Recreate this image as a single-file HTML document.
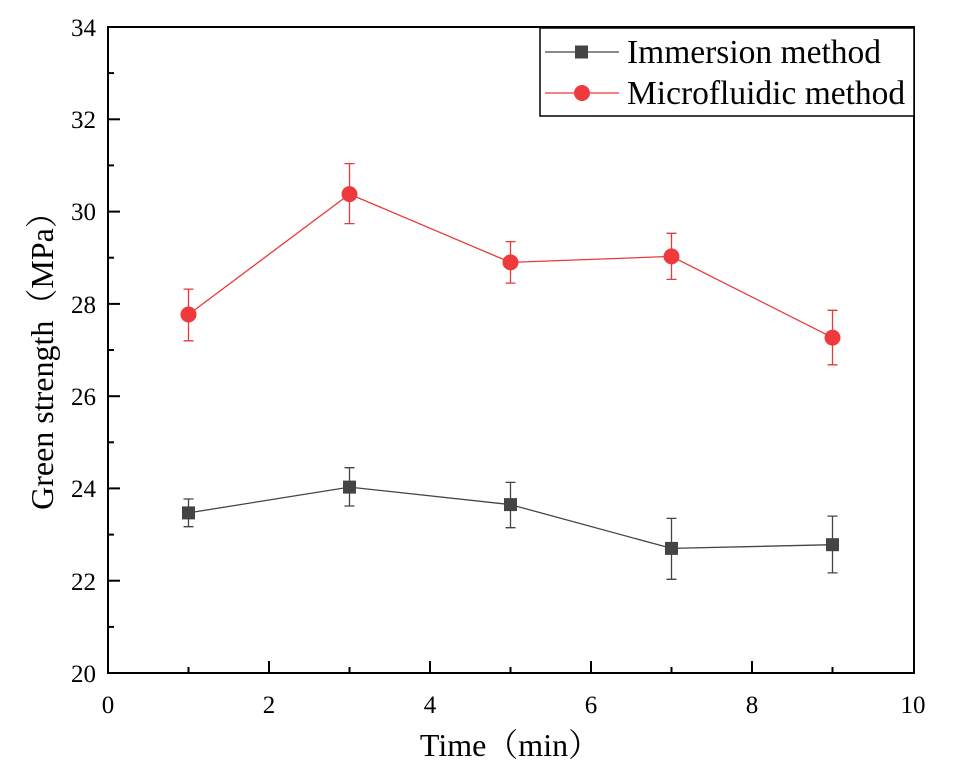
<!DOCTYPE html>
<html><head><meta charset="utf-8"><style>
body{margin:0;background:#fff}
svg text{font-family:"Liberation Serif","Noto Serif CJK SC",serif;fill:#000}
</style></head><body>
<svg width="955" height="776" viewBox="0 0 955 776" xmlns="http://www.w3.org/2000/svg">
<rect width="955" height="776" fill="#fff"/>
<rect x="108" y="27" width="806" height="646" fill="none" stroke="#000" stroke-width="2"/>
<g stroke="#000" stroke-width="2">
<line x1="269" y1="673" x2="269" y2="661"/><line x1="430" y1="673" x2="430" y2="661"/>
<line x1="591" y1="673" x2="591" y2="661"/><line x1="752" y1="673" x2="752" y2="661"/>
<line x1="188.5" y1="673" x2="188.5" y2="667"/><line x1="349.5" y1="673" x2="349.5" y2="667"/>
<line x1="510.5" y1="673" x2="510.5" y2="667"/><line x1="671.5" y1="673" x2="671.5" y2="667"/>
<line x1="832.5" y1="673" x2="832.5" y2="667"/>
<line x1="108" y1="580.7" x2="120" y2="580.7"/><line x1="108" y1="488.4" x2="120" y2="488.4"/>
<line x1="108" y1="396.2" x2="120" y2="396.2"/><line x1="108" y1="303.9" x2="120" y2="303.9"/>
<line x1="108" y1="211.6" x2="120" y2="211.6"/><line x1="108" y1="119.3" x2="120" y2="119.3"/>
<line x1="108" y1="626.9" x2="114" y2="626.9"/><line x1="108" y1="534.6" x2="114" y2="534.6"/>
<line x1="108" y1="442.3" x2="114" y2="442.3"/><line x1="108" y1="350" x2="114" y2="350"/>
<line x1="108" y1="257.7" x2="114" y2="257.7"/><line x1="108" y1="165.4" x2="114" y2="165.4"/>
<line x1="108" y1="73.1" x2="114" y2="73.1"/>
</g>
<g font-size="25" text-anchor="end">
<text x="96" y="682">20</text><text x="96" y="590">22</text><text x="96" y="497">24</text>
<text x="96" y="405">26</text><text x="96" y="313">28</text><text x="96" y="220">30</text>
<text x="96" y="128">32</text><text x="96" y="36">34</text>
</g>
<g font-size="25" text-anchor="middle">
<text x="108" y="713">0</text><text x="269" y="713">2</text><text x="430" y="713">4</text>
<text x="591" y="713">6</text><text x="752" y="713">8</text><text x="913" y="713">10</text>
</g>
<text x="510" y="756" font-size="32" text-anchor="middle">Time（min）</text>
<text transform="translate(53,353) rotate(-90)" font-size="32" text-anchor="middle">Green strength（MPa）</text>
<g stroke="#444" stroke-width="1.3" fill="none">
<polyline points="188.5,512.9 349.5,487.1 510.5,504.6 671.5,548.4 832.5,544.7"/>
<path d="M188.5,499V526.7M183.5,499h10M183.5,526.7h10
M349.5,467.7V506M344.5,467.7h10M344.5,506h10
M510.5,482.4V527.7M505.5,482.4h10M505.5,527.7h10
M671.5,518.4V579.3M666.5,518.4h10M666.5,579.3h10
M832.5,516.1V572.9M827.5,516.1h10M827.5,572.9h10"/>
</g>
<g fill="#444">
<rect x="182" y="506.4" width="13" height="13"/><rect x="343" y="480.6" width="13" height="13"/>
<rect x="504" y="498.1" width="13" height="13"/><rect x="665" y="541.9" width="13" height="13"/>
<rect x="826" y="538.2" width="13" height="13"/>
</g>
<g stroke="#e8393b" stroke-width="1.3" fill="none">
<polyline points="188.5,314.5 349.5,194.1 510.5,262.4 671.5,256.4 832.5,337.6"/>
<path d="M188.5,289.1V340.8M183.5,289.1h10M183.5,340.8h10
M349.5,163.6V223.6M344.5,163.6h10M344.5,223.6h10
M510.5,241.6V283.1M505.5,241.6h10M505.5,283.1h10
M671.5,233.3V279.4M666.5,233.3h10M666.5,279.4h10
M832.5,310.3V364.8M827.5,310.3h10M827.5,364.8h10"/>
</g>
<g fill="#ee3a3c">
<circle cx="188.5" cy="314.5" r="8"/><circle cx="349.5" cy="194.1" r="8"/>
<circle cx="510.5" cy="262.4" r="8"/><circle cx="671.5" cy="256.4" r="8"/>
<circle cx="832.5" cy="337.6" r="8"/>
</g>
<rect x="540" y="28" width="374" height="88" fill="#fff" stroke="#000" stroke-width="1.5"/>
<line x1="545" y1="52" x2="619" y2="52" stroke="#444" stroke-width="1.3"/>
<rect x="575" y="45.5" width="13" height="13" fill="#444"/>
<line x1="545" y1="93" x2="619" y2="93" stroke="#e8393b" stroke-width="1.3"/>
<circle cx="582" cy="93" r="8" fill="#ee3a3c"/>
<text x="627" y="63" font-size="33.5">Immersion method</text>
<text x="627" y="104" font-size="33.5">Microfluidic method</text>
</svg>
</body></html>
